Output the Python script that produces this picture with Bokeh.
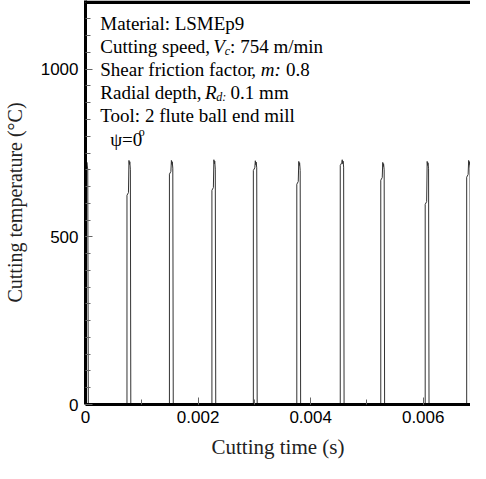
from bokeh.plotting import figure
from bokeh.models import (Range1d, SingleIntervalTicker, NumeralTickFormatter, Label,
                          BoxAnnotation)
from bokeh.embed import file_html
from bokeh.resources import INLINE

# ---------------- data ----------------
# pulse at t = 0 (already cutting when the record starts)
first_pulse_t = [0.0, 0.000008, 0.000018, 0.000025, 0.000040, 0.000050]
first_pulse_T = [700, 728, 712, 722, 700, 0]

# following pulses: time of rise, temperature of the first step, peak, start of fall
pulse_rise_s = [0.000737, 0.001491, 0.002246, 0.002982, 0.003754,
                0.004526, 0.005246, 0.006035, 0.006772]
pulse_step_C = [624, 687, 639, 698, 657, 713, 669, 597, 678]
pulse_peak_C = [728, 728, 730, 727, 725, 730, 722, 725, 728]
pulse_fall_C = [700, 705, 702, 706, 698, 708, 700, 703, 705]
# shape of one pulse: time after rise (s)
pulse_shape_dt = [0.0, 0.0, 0.000026, 0.000035, 0.000045, 0.000050, 0.000060, 0.000068]

x_ticks_major = 0.002
y_ticks_major = 500
x_label = "Cutting time (s)"
y_label = "Cutting temperature (\u00b0C)"

# build the trace
t = list(first_pulse_t)
T = list(first_pulse_T)
for r, s, pk, f in zip(pulse_rise_s, pulse_step_C, pulse_peak_C, pulse_fall_C):
    temps = [0, s, s + 8, pk, pk - 12, pk - 4, f, 0]
    for dt, v in zip(pulse_shape_dt, temps):
        t.append(r + dt)
        T.append(v)

# ---------------- figure ----------------
X_MAX = 0.00684
Y_MAX = 1205
W, H = 470, 463
ML, MB = 80, 59
FRAME_W = W - ML
FRAME_H = H - MB

p = figure(width=W, height=H, x_range=Range1d(0, X_MAX), y_range=Range1d(0, Y_MAX),
           output_backend="svg", toolbar_location=None,
           min_border_left=ML, min_border_right=0, min_border_top=0, min_border_bottom=MB)
p.outline_line_color = None
p.grid.visible = False
p.background_fill_color = "white"
p.border_fill_color = "white"

p.line(t, T, line_color="#333333", line_width=1)

p.xaxis.ticker = SingleIntervalTicker(interval=x_ticks_major, num_minor_ticks=2)
p.yaxis.ticker = SingleIntervalTicker(interval=y_ticks_major, num_minor_ticks=10)
p.xaxis.formatter = NumeralTickFormatter(format="0.[000]")
p.xaxis.axis_label = x_label
p.yaxis.axis_label = y_label

for ax in (p.xaxis[0], p.yaxis[0]):
    ax.axis_line_width = 3
    ax.axis_line_color = "black"
    ax.major_tick_out = 0
    ax.major_tick_in = 7
    ax.minor_tick_out = 0
    ax.minor_tick_in = 5
    ax.major_tick_line_color = "#666666"
    ax.minor_tick_line_color = "#666666"
    ax.major_label_text_font = "Liberation Sans"
    ax.major_label_text_font_size = "17px"
    ax.major_label_text_color = "black"
    ax.axis_label_text_font = "Liberation Serif"
    ax.axis_label_text_font_size = "20px"
    ax.axis_label_text_font_style = "normal"
    ax.axis_label_text_color = "#222222"
p.xaxis.major_label_standoff = 6
p.xaxis.axis_label_standoff = 9
p.xaxis.axis_label_text_font_size = "21px"
p.yaxis.major_label_standoff = 7
p.yaxis.axis_label_standoff = 12

PX_PER_S = FRAME_W / X_MAX
PX_PER_C = FRAME_H / Y_MAX

# thick top border of the frame
p.add_layout(BoxAnnotation(left=0, right=X_MAX, bottom=Y_MAX - 3.5 / PX_PER_C, top=Y_MAX,
                           fill_color="black", fill_alpha=1.0, line_color=None))


# ---------------- annotation text ----------------
def put(text, dx, dy, size=19, style="normal"):
    p.add_layout(Label(x=dx / PX_PER_S, y=Y_MAX - dy / PX_PER_C, text=text,
                       text_font="Liberation Serif", text_font_size=f"{size}px",
                       text_font_style=style, text_baseline="alphabetic",
                       text_align="left", text_color="black"))


put("Material: LSMEp9", 15, 23)
put("Cutting speed, ", 15, 46)
put("V", 129.5, 46, style="italic")
put("c", 141, 50, size=12, style="italic")
put(": 754 m/min", 146.5, 46)
put("Shear friction factor", 15, 69)
put(", m:", 168, 69, style="italic")
put("0.8", 203, 69)
put("Radial depth, ", 15, 92)
put("R", 121, 92, style="italic")
put("d:", 132.5, 96, size=12, style="italic")
put("0.1 mm", 147, 92)
put("Tool: 2 flute ball end mill", 15, 115)
put("\u03c8=0", 25, 139)
put("o", 54, 131, size=12)

open("out.html", "w").write(file_html(p, INLINE))
